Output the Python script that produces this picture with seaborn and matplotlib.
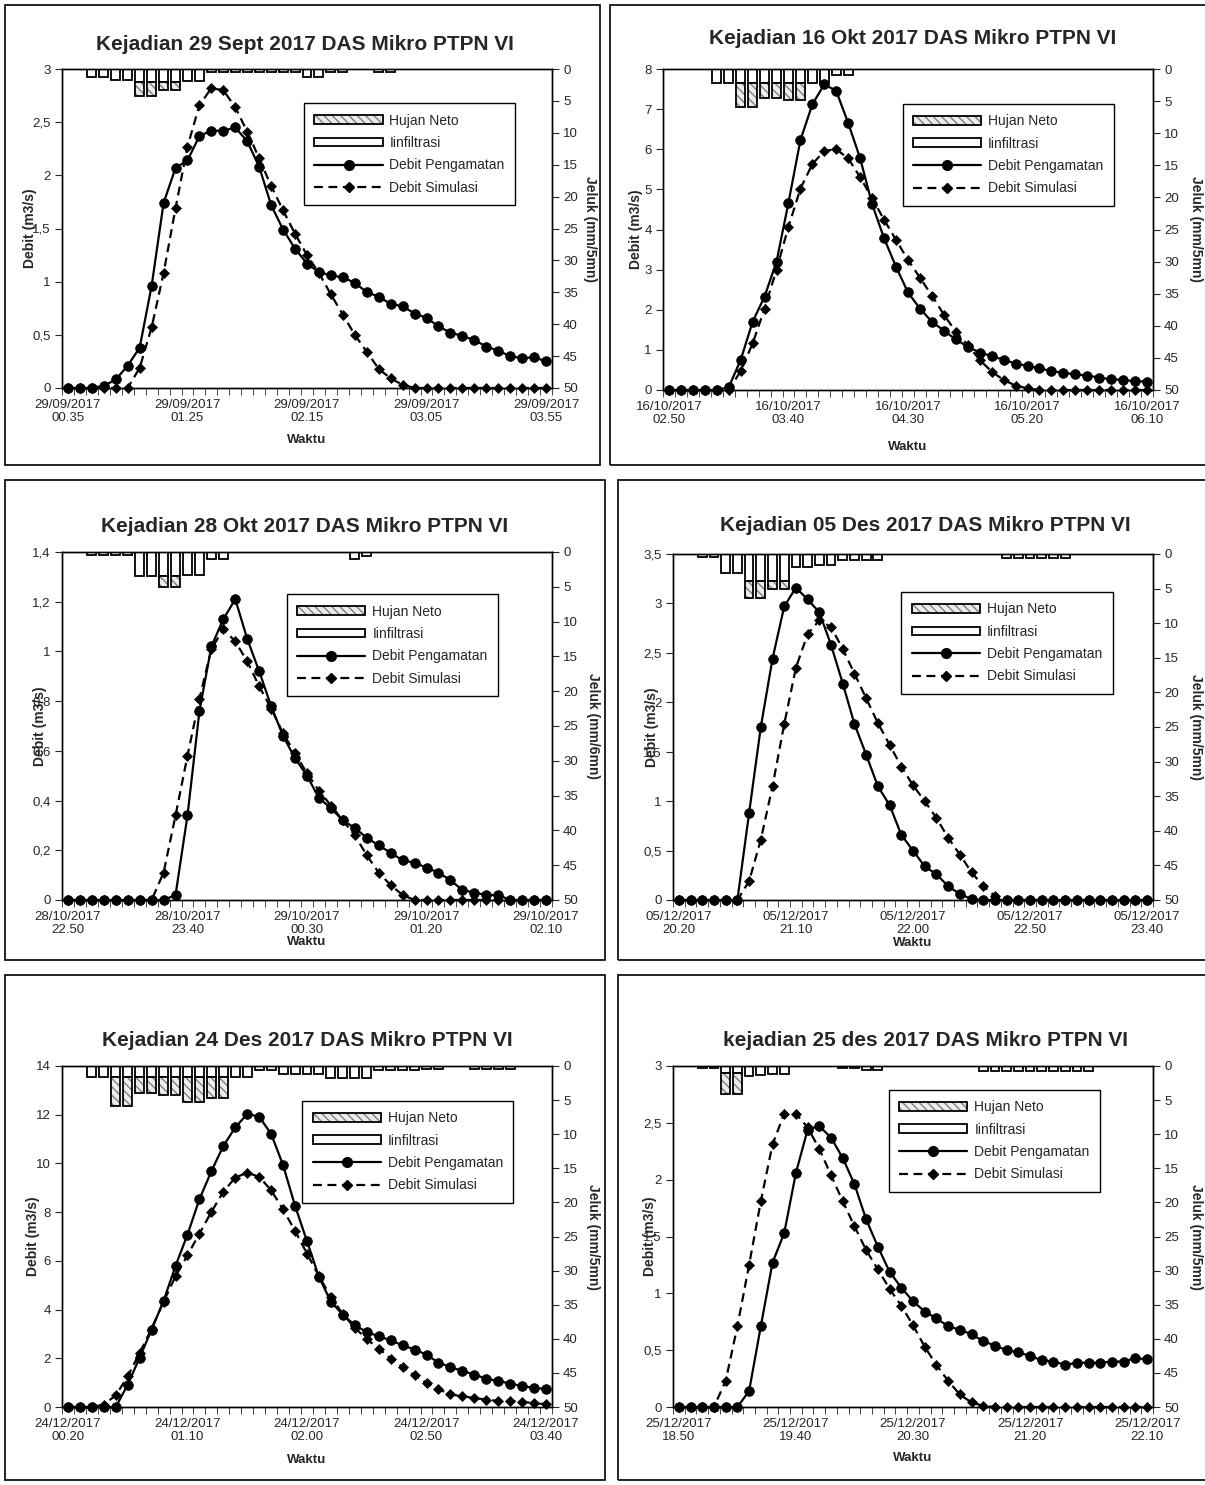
import numpy as np
import matplotlib
matplotlib.use("Agg")
import matplotlib.pyplot as plt
import seaborn as sns
from matplotlib.patches import Rectangle, Patch
from matplotlib.lines import Line2D
from matplotlib.legend_handler import HandlerTuple
from matplotlib.ticker import FuncFormatter

sns.set_style("ticks")
plt.rcParams["font.family"] = ["Liberation Sans", "DejaVu Sans"]
plt.rcParams["hatch.linewidth"] = 1.0

# ---- data (5 minute steps, 41 points per event) ----
ticks_29sep = ["29/09/2017\n00.35", "29/09/2017\n01.25", "29/09/2017\n02.15", "29/09/2017\n03.05", "29/09/2017\n03.55"]
obs_29sep = [0, 0, 0, 0.02, 0.08, 0.21, 0.38, 0.96, 1.74, 2.07, 2.14, 2.37, 2.42, 2.42, 2.45, 2.32, 2.08, 1.72, 1.49, 1.31,
             1.17, 1.09, 1.06, 1.04, 0.99, 0.90, 0.86, 0.79, 0.77, 0.70, 0.66, 0.58, 0.52, 0.49, 0.45, 0.39, 0.35, 0.30, 0.28, 0.29, 0.25]
sim_29sep = [0, 0, 0, 0, 0, 0, 0.19, 0.57, 1.08, 1.69, 2.27, 2.66, 2.82, 2.80, 2.64, 2.41, 2.16, 1.90, 1.67, 1.45,
             1.25, 1.08, 0.88, 0.69, 0.50, 0.34, 0.18, 0.09, 0.03, 0, 0, 0, 0, 0, 0, 0, 0, 0, 0, 0, 0]
inf_29sep = [0, 0, 1.2, 1.2, 1.7, 1.7, 2.0, 2.0, 2.0, 2.0, 1.9, 1.9, 0.4, 0.4, 0.4, 0.4, 0.4, 0.4, 0.4, 0.4,
             1.2, 1.2, 0.4, 0.4, 0, 0, 0.4, 0.4, 0, 0, 0, 0, 0, 0, 0, 0, 0, 0, 0, 0, 0]
neto_29sep = [0, 0, 0, 0, 0, 0, 2.3, 2.3, 1.3, 1.3, 0, 0, 0, 0, 0, 0, 0, 0, 0, 0,
              0, 0, 0, 0, 0, 0, 0, 0, 0, 0, 0, 0, 0, 0, 0, 0, 0, 0, 0, 0, 0]

ticks_16okt = ["16/10/2017\n02.50", "16/10/2017\n03.40", "16/10/2017\n04.30", "16/10/2017\n05.20", "16/10/2017\n06.10"]
obs_16okt = [0, 0, 0, 0, 0, 0.07, 0.75, 1.70, 2.33, 3.20, 4.67, 6.23, 7.12, 7.62, 7.45, 6.65, 5.77, 4.63, 3.78, 3.07,
             2.43, 2.03, 1.70, 1.48, 1.26, 1.08, 0.93, 0.85, 0.75, 0.66, 0.60, 0.54, 0.47, 0.43, 0.39, 0.36, 0.31, 0.27, 0.25, 0.22, 0.21]
sim_16okt = [0, 0, 0, 0, 0, 0, 0.47, 1.16, 2.03, 3.00, 4.07, 5.02, 5.63, 5.96, 6.00, 5.77, 5.30, 4.78, 4.24, 3.74,
             3.24, 2.80, 2.35, 1.88, 1.45, 1.12, 0.75, 0.46, 0.25, 0.11, 0.04, 0, 0, 0, 0, 0, 0, 0, 0, 0, 0]
inf_16okt = [0, 0, 0, 0, 2.2, 2.2, 2.2, 2.2, 2.2, 2.2, 2.2, 2.2, 2.2, 2.2, 0.9, 0.9, 0, 0, 0, 0,
             0, 0, 0, 0, 0, 0, 0, 0, 0, 0, 0, 0, 0, 0, 0, 0, 0, 0, 0, 0, 0]
neto_16okt = [0, 0, 0, 0, 0, 0, 3.7, 3.7, 2.3, 2.3, 2.7, 2.7, 0, 0, 0, 0, 0, 0, 0, 0,
              0, 0, 0, 0, 0, 0, 0, 0, 0, 0, 0, 0, 0, 0, 0, 0, 0, 0, 0, 0, 0]

ticks_28okt = ["28/10/2017\n22.50", "28/10/2017\n23.40", "29/10/2017\n00.30", "29/10/2017\n01.20", "29/10/2017\n02.10"]
obs_28okt = [0, 0, 0, 0, 0, 0, 0, 0, 0, 0.02, 0.34, 0.76, 1.02, 1.13, 1.21, 1.05, 0.92, 0.78, 0.66, 0.57,
             0.50, 0.41, 0.37, 0.32, 0.29, 0.25, 0.22, 0.19, 0.16, 0.15, 0.13, 0.11, 0.08, 0.04, 0.03, 0.02, 0.02, 0, 0, 0, 0]
sim_28okt = [0, 0, 0, 0, 0, 0, 0, 0, 0.11, 0.34, 0.58, 0.81, 1.01, 1.09, 1.04, 0.96, 0.86, 0.77, 0.67, 0.59,
             0.51, 0.44, 0.38, 0.32, 0.26, 0.18, 0.11, 0.06, 0.02, 0, 0, 0, 0, 0, 0, 0, 0, 0, 0, 0, 0]
inf_28okt = [0, 0, 0.4, 0.4, 0.4, 0.4, 3.5, 3.5, 3.5, 3.5, 3.3, 3.3, 1.0, 1.0, 0, 0, 0, 0, 0, 0,
             0, 0, 0, 0, 1.0, 0.6, 0, 0, 0, 0, 0, 0, 0, 0, 0, 0, 0, 0, 0, 0, 0]
neto_28okt = [0, 0, 0, 0, 0, 0, 0, 0, 1.5, 1.5, 0, 0, 0, 0, 0, 0, 0, 0, 0, 0,
              0, 0, 0, 0, 0, 0, 0, 0, 0, 0, 0, 0, 0, 0, 0, 0, 0, 0, 0, 0, 0]

ticks_05des = ["05/12/2017\n20.20", "05/12/2017\n21.10", "05/12/2017\n22.00", "05/12/2017\n22.50", "05/12/2017\n23.40"]
obs_05des = [0, 0, 0, 0, 0, 0, 0.88, 1.75, 2.44, 2.97, 3.16, 3.04, 2.91, 2.58, 2.19, 1.78, 1.47, 1.15, 0.96, 0.66,
             0.50, 0.34, 0.26, 0.14, 0.06, 0.01, 0, 0, 0, 0, 0, 0, 0, 0, 0, 0, 0, 0, 0, 0, 0]
sim_05des = [0, 0, 0, 0, 0, 0, 0.19, 0.61, 1.15, 1.78, 2.35, 2.69, 2.83, 2.76, 2.54, 2.29, 2.04, 1.79, 1.57, 1.35,
             1.16, 1.00, 0.83, 0.63, 0.46, 0.28, 0.14, 0.04, 0, 0, 0, 0, 0, 0, 0, 0, 0, 0, 0, 0, 0]
inf_05des = [0, 0, 0.5, 0.5, 2.7, 2.7, 3.9, 3.9, 3.9, 3.9, 1.9, 1.9, 1.6, 1.6, 0.8, 0.8, 0.8, 0.8, 0, 0,
             0, 0, 0, 0, 0, 0, 0, 0, 0.6, 0.6, 0.6, 0.6, 0.6, 0.6, 0, 0, 0, 0, 0, 0, 0]
neto_05des = [0, 0, 0, 0, 0, 0, 2.5, 2.5, 1.2, 1.2, 0, 0, 0, 0, 0, 0, 0, 0, 0, 0,
              0, 0, 0, 0, 0, 0, 0, 0, 0, 0, 0, 0, 0, 0, 0, 0, 0, 0, 0, 0, 0]

ticks_24des = ["24/12/2017\n00.20", "24/12/2017\n01.10", "24/12/2017\n02.00", "24/12/2017\n02.50", "24/12/2017\n03.40"]
obs_24des = [0, 0, 0, 0, 0, 0.92, 2.03, 3.18, 4.36, 5.79, 7.08, 8.53, 9.68, 10.72, 11.48, 12.03, 11.92, 11.21, 9.93, 8.26,
             6.81, 5.34, 4.32, 3.79, 3.36, 3.08, 2.90, 2.74, 2.53, 2.36, 2.15, 1.82, 1.64, 1.48, 1.33, 1.16, 1.07, 0.96, 0.86, 0.78, 0.75]
sim_24des = [0, 0, 0, 0.10, 0.48, 1.26, 2.22, 3.22, 4.32, 5.37, 6.23, 7.12, 8.01, 8.84, 9.42, 9.62, 9.45, 8.90, 8.11, 7.23,
             6.30, 5.37, 4.52, 3.81, 3.26, 2.78, 2.40, 1.99, 1.64, 1.30, 0.99, 0.73, 0.52, 0.44, 0.37, 0.30, 0.25, 0.25, 0.21, 0.16, 0.11]
inf_24des = [0, 0, 1.6, 1.6, 1.6, 1.6, 1.6, 1.6, 1.6, 1.6, 1.6, 1.6, 1.6, 1.6, 1.6, 1.6, 0.6, 0.6, 1.2, 1.2,
             1.2, 1.2, 1.8, 1.8, 1.8, 1.8, 0.6, 0.6, 0.6, 0.6, 0.5, 0.5, 0, 0, 0.5, 0.5, 0.5, 0.5, 0, 0, 0]
neto_24des = [0, 0, 0, 0, 4.2, 4.2, 2.3, 2.3, 2.7, 2.7, 3.7, 3.7, 3.1, 3.1, 0, 0, 0, 0, 0, 0,
              0, 0, 0, 0, 0, 0, 0, 0, 0, 0, 0, 0, 0, 0, 0, 0, 0, 0, 0, 0, 0]

ticks_25des = ["25/12/2017\n18.50", "25/12/2017\n19.40", "25/12/2017\n20.30", "25/12/2017\n21.20", "25/12/2017\n22.10"]
obs_25des = [0, 0, 0, 0, 0, 0, 0.14, 0.71, 1.27, 1.53, 2.06, 2.44, 2.47, 2.37, 2.19, 1.96, 1.65, 1.41, 1.19, 1.05,
             0.93, 0.84, 0.78, 0.71, 0.68, 0.64, 0.58, 0.54, 0.50, 0.48, 0.45, 0.41, 0.40, 0.37, 0.39, 0.39, 0.39, 0.40, 0.40, 0.43, 0.42]
sim_25des = [0, 0, 0, 0, 0.23, 0.71, 1.25, 1.81, 2.31, 2.58, 2.58, 2.46, 2.27, 2.04, 1.81, 1.59, 1.38, 1.21, 1.04, 0.89,
             0.72, 0.53, 0.37, 0.23, 0.11, 0.04, 0.01, 0, 0, 0, 0, 0, 0, 0, 0, 0, 0, 0, 0, 0, 0]
inf_25des = [0, 0, 0.3, 0.3, 1.0, 1.0, 1.4, 1.3, 1.1, 1.1, 0, 0, 0, 0, 0.3, 0.3, 0.6, 0.6, 0, 0,
             0, 0, 0, 0, 0, 0, 0.8, 0.8, 0.8, 0.8, 0.8, 0.8, 0.8, 0.8, 0.8, 0.8, 0, 0, 0, 0, 0]
neto_25des = [0, 0, 0, 0, 3.1, 3.1, 0, 0, 0, 0, 0, 0, 0, 0, 0, 0, 0, 0, 0, 0,
              0, 0, 0, 0, 0, 0, 0, 0, 0, 0, 0, 0, 0, 0, 0, 0, 0, 0, 0, 0, 0]

panels = [
    dict(title="Kejadian 29 Sept 2017 DAS Mikro PTPN VI", obs=obs_29sep, sim=sim_29sep, inf=inf_29sep, neto=neto_29sep,
         ticks=ticks_29sep, ymax=3, ystep=0.5, rlab="Jeluk (mm/5mn)",
         frame=(5, 5, 600, 465), box=(62, 69, 552, 388), leg=(0.494, 0.893),
         tpos=(305, 45), ylpos=30, rlpos=590, wy=440),
    dict(title="Kejadian 16 Okt 2017 DAS Mikro PTPN VI", obs=obs_16okt, sim=sim_16okt, inf=inf_16okt, neto=neto_16okt,
         ticks=ticks_16okt, ymax=8, ystep=1, rlab="Jeluk (mm/5mn)",
         frame=(610, 5, 1215, 465), box=(663, 69, 1153, 390), leg=(0.489, 0.891),
         tpos=(913, 38), ylpos=636, rlpos=1196, wy=447),
    dict(title="Kejadian 28 Okt 2017 DAS Mikro PTPN VI", obs=obs_28okt, sim=sim_28okt, inf=inf_28okt, neto=neto_28okt,
         ticks=ticks_28okt, ymax=1.4, ystep=0.2, rlab="Jeluk (mm/6mn)",
         frame=(5, 480, 605, 960), box=(62, 552, 552, 900), leg=(0.459, 0.879),
         tpos=(305, 527), ylpos=40, rlpos=593, wy=942),
    dict(title="Kejadian 05 Des 2017 DAS Mikro PTPN VI", obs=obs_05des, sim=sim_05des, inf=inf_05des, neto=neto_05des,
         ticks=ticks_05des, ymax=3.5, ystep=0.5, rlab="Jeluk (mm/5mn)",
         frame=(618, 480, 1215, 960), box=(673, 554, 1153, 900), leg=(0.476, 0.89),
         tpos=(925, 525), ylpos=652, rlpos=1196, wy=943),
    dict(title="Kejadian 24 Des 2017 DAS Mikro PTPN VI", obs=obs_24des, sim=sim_24des, inf=inf_24des, neto=neto_24des,
         ticks=ticks_24des, ymax=14, ystep=2, rlab="Jeluk (mm/5mn)",
         frame=(5, 975, 605, 1480), box=(62, 1066, 552, 1407), leg=(0.49, 0.898),
         tpos=(307, 1040), ylpos=33, rlpos=593, wy=1460),
    dict(title="kejadian 25 des 2017 DAS Mikro PTPN VI", obs=obs_25des, sim=sim_25des, inf=inf_25des, neto=neto_25des,
         ticks=ticks_25des, ymax=3, ystep=0.5, rlab="Jeluk (mm/5mn)",
         frame=(618, 975, 1215, 1480), box=(673, 1066, 1153, 1407), leg=(0.45, 0.93),
         tpos=(925, 1040), ylpos=650, rlpos=1196, wy=1458),
]

W, H = 1205, 1485
fig = plt.figure(figsize=(W / 100, H / 100), dpi=100)
fig.patch.set_facecolor("white")


def fx(x):
    return x / W


def fy(y):
    return 1 - y / H


comma = FuncFormatter(lambda v, _: f"{v:g}".replace(".", ","))
neto_fill = dict(facecolor="#ececec", edgecolor="#808080", hatch="\\\\\\\\", lw=0)

for p in panels:
    fl, ft, fr, fb = p["frame"]
    fig.add_artist(Rectangle((fx(fl), fy(fb)), (fr - fl) / W, (fb - ft) / H, transform=fig.transFigure,
                             fill=False, edgecolor="black", lw=1.2))

    l, t, r, b = p["box"]
    ax = fig.add_axes([fx(l), fy(b), (r - l) / W, (b - t) / H])
    ax2 = ax.twinx()
    ax.set_zorder(ax2.get_zorder() + 1)
    ax.patch.set_visible(False)

    idx = np.arange(len(p["obs"]))
    inf = np.array(p["inf"])
    neto = np.array(p["neto"])
    m = inf > 0
    ax2.bar(idx[m], inf[m], width=0.75, color="white", edgecolor="black", lw=1.3)
    m2 = neto > 0
    ax2.bar(idx[m2], neto[m2], bottom=inf[m2], width=0.75, **neto_fill)
    ax2.bar(idx[m2], neto[m2], bottom=inf[m2], width=0.75, fill=False, edgecolor="black", lw=1.3)
    ax2.set_ylim(50, 0)
    ax2.set_yticks(np.arange(0, 51, 5))
    ax2.tick_params(axis="y", direction="out", length=5, labelsize=9.5, pad=3)

    sns.lineplot(x=idx, y=p["obs"], ax=ax, color="black", lw=1.6, marker="o", markersize=7,
                 markeredgecolor="black", markeredgewidth=0.5, clip_on=False)
    sns.lineplot(x=idx, y=p["sim"], ax=ax, color="black", lw=1.6, linestyle=(0, (4, 2.5)), marker="D",
                 markersize=4.8, markeredgecolor="black", markeredgewidth=0.5, clip_on=False)

    ax.set_xlim(-0.5, len(idx) - 0.5)
    ax.set_ylim(0, p["ymax"])
    ax.set_yticks(np.arange(0, p["ymax"] + p["ystep"] / 2, p["ystep"]))
    ax.yaxis.set_major_formatter(comma)
    ax.set_xticks([0, 10, 20, 30, 40])
    ax.set_xticklabels(p["ticks"], fontsize=9.5, linespacing=1.1)
    ax.set_xticks(np.arange(-0.5, len(idx), 1), minor=True)
    ax.tick_params(axis="x", which="major", length=0, pad=8)
    ax.tick_params(axis="x", which="minor", direction="out", length=5)
    ax.tick_params(axis="y", direction="out", length=5, labelsize=9.5, pad=3)
    ax.set_xlabel("")
    ax.set_ylabel("")
    for a in (ax, ax2):
        for s in a.spines.values():
            s.set_color("black")
            s.set_linewidth(1.0)

    neto_h = (Patch(**neto_fill), Patch(fill=False, edgecolor="black", lw=1.3))
    inf_h = Patch(facecolor="white", edgecolor="black", lw=1.3)
    obs_h = Line2D([], [], color="black", lw=1.6, marker="o", markersize=7)
    sim_h = Line2D([], [], color="black", lw=1.6, ls=(0, (4, 2.5)), marker="D", markersize=4.8)
    leg = ax.legend([neto_h, inf_h, obs_h, sim_h],
                    ["Hujan Neto", "Iinfiltrasi", "Debit Pengamatan", "Debit Simulasi"],
                    handler_map={tuple: HandlerTuple(ndivide=1, pad=0)},
                    loc="upper left", bbox_to_anchor=p["leg"], fontsize=10, frameon=True, fancybox=False,
                    edgecolor="black", framealpha=1, handlelength=4.9, handleheight=0.6,
                    labelspacing=0.6, borderpad=0.75, handletextpad=0.5, numpoints=1, borderaxespad=0)
    leg.get_frame().set_linewidth(1.0)

    fig.text(fx(p["tpos"][0]), fy(p["tpos"][1]), p["title"], ha="center", va="center",
             fontsize=15, fontweight="bold")
    yc = (t + b) / 2
    fig.text(fx(p["ylpos"]), fy(yc), "Debit (m3/s)", rotation=90, ha="center", va="center",
             fontsize=10, fontweight="bold")
    fig.text(fx(p["rlpos"]), fy(yc), p["rlab"], rotation=270, ha="center", va="center",
             fontsize=10, fontweight="bold")
    fig.text(fx((l + r) / 2), fy(p["wy"]), "Waktu", ha="center", va="center",
             fontsize=9.5, fontweight="bold")

fig.savefig("out.png", dpi=100)
